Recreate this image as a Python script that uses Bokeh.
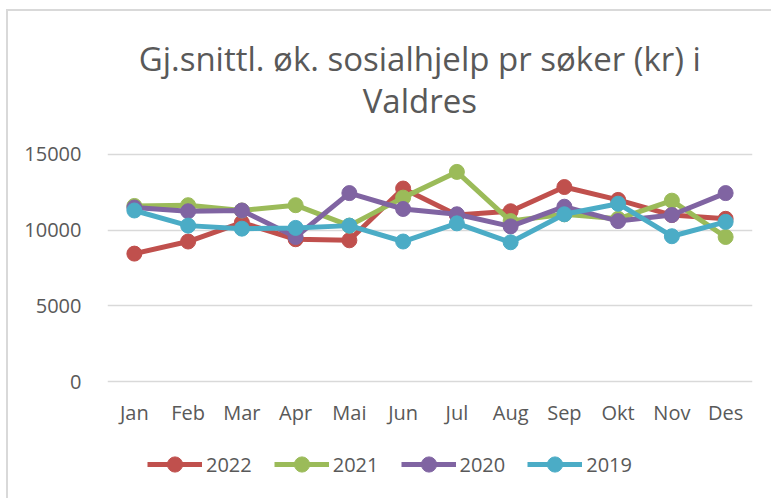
from bokeh.plotting import figure
from bokeh.models import Legend, LegendItem, FixedTicker
from bokeh.core.properties import value
from bokeh.embed import file_html
from bokeh.resources import INLINE

months = ["Jan", "Feb", "Mar", "Apr", "Mai", "Jun", "Jul", "Aug", "Sep", "Okt", "Nov", "Des"]
v2022 = [8450, 9250, 10500, 9400, 9330, 12750, 11000, 11250, 12850, 12000, 11000, 10750]
v2021 = [11600, 11650, 11300, 11650, 10300, 12150, 13850, 10600, 11050, 10750, 11950, 9550]
v2020 = [11500, 11250, 11300, 9550, 12450, 11400, 11050, 10250, 11550, 10600, 11000, 12450]
v2019 = [11300, 10300, 10100, 10150, 10300, 9250, 10450, 9200, 11050, 11750, 9600, 10550]
series_names = ["2022", "2021", "2020", "2019"]
y_ticks = [0, 5000, 10000, 15000]
title_lines = ["Gj.snittl. øk. sosialhjelp pr søker (kr) i", "Valdres"]

colors = ["#C0504D", "#9BBB59", "#8064A2", "#4BACC6"]
FONT = "Open Sans"
TXT = "#595959"

# The frame spans the whole chart area; title, category labels and legend are placed inside it.
Y_TOP, Y_BOTTOM = 25176, -7731
LABEL_Y = -2050
TITLE_Y = [21344, 18568]
TITLE_X = 5.81

p = figure(x_range=months, y_range=(Y_BOTTOM, Y_TOP), width=771, height=498,
           output_backend="svg", toolbar_location=None,
           min_border_left=107, min_border_right=19, min_border_top=0,
           min_border_bottom=0)
p.outline_line_color = None
p.background_fill_alpha = 0
p.border_fill_alpha = 0
p.styles = {"background": "linear-gradient(#D9D9D9,#D9D9D9) 6px 9px / 2px 100% no-repeat, "
                          "linear-gradient(#D9D9D9,#D9D9D9) 6px 9px / 100% 2px no-repeat, white"}

p.text(x=[TITLE_X] * 2, y=TITLE_Y, text=title_lines, text_align="center",
       text_baseline="middle", text_font=value(FONT), text_font_size="33px",
       text_color=TXT)

items = []
for name, vals, c in zip(series_names, [v2022, v2021, v2020, v2019], colors):
    l = p.line(months, vals, line_color=c, line_width=5)
    s = p.scatter(months, vals, size=15, fill_color=c, line_color=c)
    items.append(LegendItem(label=name, renderers=[l, s]))

# category labels
p.text(x=months, y=[LABEL_Y] * len(months), text=months, text_align="center",
       text_baseline="middle", text_font=value(FONT), text_font_size="20px",
       text_color=TXT)

p.xaxis.visible = False
p.xgrid.grid_line_color = None
p.ygrid.grid_line_color = "#D9D9D9"
p.ygrid.grid_line_width = 1.5
p.yaxis.ticker = FixedTicker(ticks=y_ticks)
ax = p.yaxis[0]
ax.axis_line_color = None
ax.major_tick_line_color = None
ax.minor_tick_line_color = None
ax.major_label_text_font = FONT
ax.major_label_text_font_size = "20px"
ax.major_label_text_color = TXT
ax.major_label_standoff = 20

legend = Legend(items=items, orientation="horizontal", location=(40, 15),
                glyph_width=55, glyph_height=38, label_height=20,
                label_standoff=4, spacing=22, padding=0, margin=0,
                label_text_font=FONT, label_text_font_size="20px",
                label_text_color=TXT, border_line_color=None,
                background_fill_alpha=0)
p.add_layout(legend, "center")

open("out.html", "w").write(file_html(p, INLINE))
